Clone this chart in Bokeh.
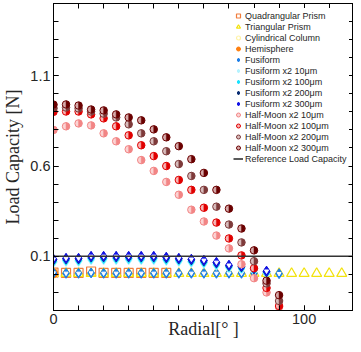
import math
from bokeh.plotting import figure
from bokeh.models import Range1d, FixedTicker, LinearAxis, Legend, LegendItem
from bokeh.embed import file_html
from bokeh.resources import INLINE

# ---------------- data ----------------
radial_hm = [0, 5, 10, 15, 20, 25, 30, 35, 40, 45, 50, 55, 60, 65, 70, 75, 80, 85, 90]
hm_10 = [0.80, 0.82, 0.836, 0.825, 0.781, 0.737, 0.693, 0.633, 0.573, 0.512, 0.441,
         0.358, 0.293, 0.215, 0.144, 0.056, -0.021, -0.100, -0.180]
hm_100 = [0.90, 0.902, 0.902, 0.886, 0.864, 0.820, 0.770, 0.715, 0.655, 0.600, 0.523,
          0.468, 0.369, 0.287, 0.199, 0.105, 0.034, -0.075, -0.175]
hm_200 = [0.92, 0.924, 0.919, 0.902, 0.890, 0.869, 0.831, 0.781, 0.737, 0.682, 0.611,
          0.545, 0.468, 0.375, 0.276, 0.177, 0.073, -0.050, -0.147]
hm_300 = [0.94, 0.941, 0.935, 0.913, 0.908, 0.886, 0.869, 0.853, 0.803, 0.759, 0.710,
          0.638, 0.562, 0.468, 0.364, 0.254, 0.133, -0.035, -0.115]

radial_fx = [0, 5, 10, 15, 20, 25, 30, 35, 40, 45, 50, 55, 60, 65, 70, 75, 80, 85]
fx_10 = [0.066, 0.071, 0.071, 0.080, 0.080, 0.080, 0.080, 0.080, 0.080, 0.076, 0.071,
         0.066, 0.060, 0.050, 0.036, 0.030, 0.020, 0.006]
fx_100 = [0.073, 0.078, 0.078, 0.088, 0.088, 0.088, 0.088, 0.088, 0.088, 0.083, 0.078,
          0.073, 0.067, 0.057, 0.042, 0.036, 0.026, 0.011]
fx_200 = [0.081, 0.086, 0.086, 0.097, 0.097, 0.097, 0.097, 0.097, 0.097, 0.092, 0.086,
          0.081, 0.075, 0.064, 0.048, 0.042, 0.031, 0.016]
fx_300 = [0.084, 0.089, 0.089, 0.100, 0.100, 0.100, 0.100, 0.100, 0.100, 0.095, 0.089,
          0.084, 0.078, 0.067, 0.051, 0.045, 0.034, 0.018]

radial_fus = [0, 5, 10, 15, 20, 25, 30, 35, 40, 45, 50, 55, 60, 65, 70, 75, 80, 85, 90]
fusiform = [0.008, 0.006, 0.006, 0.008, 0.006, 0.006, 0.006, 0.006, 0.006, 0.006, 0.006,
            0.006, 0.006, 0.006, 0.006, 0.006, 0.006, 0.006, 0.004]

radial_quad = [0, 5, 10, 15, 20, 25, 30, 35, 40, 45]
quad = [0.010, 0.008, 0.008, 0.016, 0.008, 0.008, 0.008, 0.008, 0.008, 0.008]

radial_tri = [0, 5, 10, 15, 20, 25, 30, 35, 40, 45, 50, 55, 60, 65, 70, 75, 80, 85,
              90, 95, 100, 105, 110, 115]
tri = [0.005, 0.005, 0.005, 0.005, 0.005, 0.005, 0.005, 0.005, 0.005, 0.005, 0.005,
       0.005, 0.005, 0.005, 0.005, 0.005, 0.005, 0.005, 0.005, 0.005, 0.005, 0.005,
       0.005, 0.005]

radial_cyl = [0]
cyl = [0.006]
radial_hemi = [0]
hemi = [0.006]

ref_x = [0, 120]
ref_y = [0.1, 0.1]

y_tick_labels = [0.1, 0.6, 1.1]
x_tick_labels = [0, 100]

# ---------------- figure ----------------
p = figure(width=353, height=344, x_range=Range1d(0, 119.7), y_range=Range1d(-0.2, 1.5),
           output_backend="svg", toolbar_location=None,
           min_border_left=49, min_border_right=0, min_border_top=3, min_border_bottom=34)
p.xgrid.visible = False
p.ygrid.visible = False
p.outline_line_color = "black"
p.outline_line_width = 1
p.background_fill_color = "white"

x_minor = [0, 10, 20, 30, 40, 50, 60, 70, 80, 90, 100, 110, 120]
y_minor = [-0.2, -0.1, 0.0, 0.1, 0.2, 0.3, 0.4, 0.5, 0.6, 0.7, 0.8, 0.9, 1.0, 1.1, 1.2, 1.3, 1.4, 1.5]

def style_axis(ax, ticks, minor):
    ax.ticker = FixedTicker(ticks=ticks, minor_ticks=minor)
    ax.major_tick_in = 5
    ax.major_tick_out = 0
    ax.minor_tick_in = 5
    ax.minor_tick_out = 0
    ax.axis_line_color = "black"
    ax.major_tick_line_color = "black"
    ax.minor_tick_line_color = "black"
    ax.major_label_text_font = "Liberation Sans"
    ax.major_label_text_font_size = "14.5px"
    ax.major_label_text_color = "#262626"
    ax.major_label_standoff = 3

style_axis(p.xaxis[0], x_tick_labels, x_minor)
style_axis(p.yaxis[0], y_tick_labels, y_minor)
p.xaxis[0].axis_label = "Radial[° ]"
p.yaxis[0].axis_label = "Load Capacity [N]"
for ax in (p.xaxis[0], p.yaxis[0]):
    ax.axis_label_text_font = "Liberation Serif"
    ax.axis_label_text_font_size = "18px"
    ax.axis_label_text_font_style = "normal"
    ax.axis_label_text_color = "#262626"
p.xaxis[0].axis_label_standoff = -8
p.yaxis[0].axis_label_standoff = 4

top_ax = LinearAxis()
style_axis(top_ax, [], x_minor)
top_ax.major_label_standoff = 0
p.add_layout(top_ax, "above")
right_ax = LinearAxis()
style_axis(right_ax, [], y_minor)
right_ax.major_label_standoff = 0
p.add_layout(right_ax, "right")

items = []

r = p.scatter(radial_quad, quad, marker="square", size=9, fill_color=None,
              line_color="#F07D3C", line_width=1.2)
items.append(LegendItem(label="Quadrangular Prism", renderers=[r]))

r = p.scatter(radial_tri, tri, marker="triangle", size=10, fill_color=None,
              line_color="#F2E20C", line_width=1.2)
items.append(LegendItem(label="Triangular Prism", renderers=[r]))

r = p.scatter(radial_cyl, cyl, marker="circle", size=9, fill_color=None,
              line_color="#FFF3A6", line_width=1.2)
items.append(LegendItem(label="Cylindrical Column", renderers=[r]))

r = p.scatter(radial_hemi, hemi, marker="circle", size=9, fill_color="#FF7F0E",
              line_color="#FF7F0E")
items.append(LegendItem(label="Hemisphere", renderers=[r]))

def diamond_series(xs, ys, color, label):
    r1 = p.scatter(xs, ys, marker="diamond", size=10, fill_color=color,
                   line_color=color, line_width=1)
    p.scatter(xs, ys, marker="inverted_triangle", size=4, fill_color="white",
              line_color="white")
    items.append(LegendItem(label=label, renderers=[r1]))

diamond_series(radial_fus, fusiform, "#1E7FE8", "Fusiform")
diamond_series(radial_fx, fx_10, "#B5F3FF", "Fusiform x2 10μm")
diamond_series(radial_fx, fx_100, "#19E3FF", "Fusiform x2 100μm")
diamond_series(radial_fx, fx_200, "#0B2E74", "Fusiform x2 200μm")
diamond_series(radial_fx, fx_300, "#1414E6", "Fusiform x2 300μm")

def half_moon(xs, ys, color, tint, label):
    r1 = p.scatter(xs, ys, marker="circle", size=7.5, fill_color=tint,
                   line_color=color, line_width=1)
    p.wedge(xs, ys, radius=3.5, radius_units="screen", start_angle=-math.pi / 2,
            end_angle=math.pi / 2, fill_color=color, line_color=color, line_width=0.5)
    items.append(LegendItem(label=label, renderers=[r1]))

half_moon(radial_hm, hm_10, "#F28585", "#FBD3D3", "Half-Moon x2 10μm")
half_moon(radial_hm, hm_100, "#E00000", "#F7B5B5", "Half-Moon x2 100μm")
half_moon(radial_hm, hm_200, "#7E3A3A", "#D8BDBD", "Half-Moon x2 200μm")
half_moon(radial_hm, hm_300, "#6A0000", "#D6AAAA", "Half-Moon x2 300μm")

r = p.line(ref_x, ref_y, line_color="#333333", line_width=1.6)
items.append(LegendItem(label="Reference Load Capacity", renderers=[r]))

legend = Legend(items=items, location=(178, 144))
legend.label_text_font = "Liberation Sans"
legend.label_text_font_size = "9px"
legend.label_text_color = "#262626"
legend.label_height = 11
legend.glyph_height = 11
legend.glyph_width = 10
legend.spacing = 0
legend.padding = 2
legend.margin = 0
legend.label_standoff = 2
legend.border_line_alpha = 0
legend.background_fill_color = "white"
legend.background_fill_alpha = 1
p.add_layout(legend, "center")

open("out.html", "w").write(file_html(p, INLINE))
